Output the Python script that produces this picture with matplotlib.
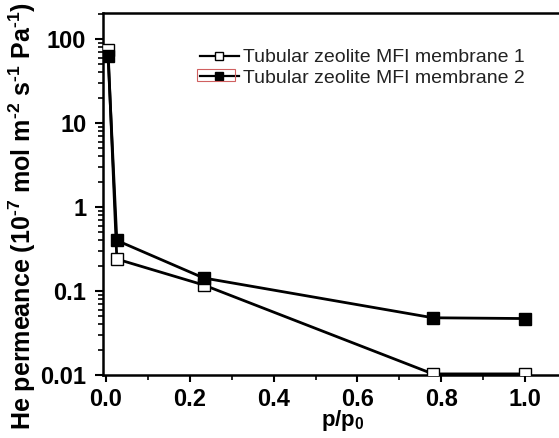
import matplotlib
matplotlib.use("Agg")
import matplotlib.pyplot as plt
from matplotlib.patches import Rectangle
from matplotlib.ticker import LogLocator, NullFormatter, FixedLocator

plt.rcParams['font.family'] = ['Liberation Sans', 'DejaVu Sans']
plt.rcParams['mathtext.fontset'] = 'custom'
plt.rcParams['mathtext.rm'] = 'Liberation Sans:bold'
plt.rcParams['mathtext.bf'] = 'Liberation Sans:bold'
plt.rcParams['mathtext.it'] = 'Liberation Sans:bold'
plt.rcParams['mathtext.default'] = 'bf'

x1 = [0.005, 0.026, 0.233, 0.78, 1.0]
y1 = [74, 0.24, 0.118, 0.0103, 0.0103]
x2 = [0.005, 0.026, 0.233, 0.78, 1.0]
y2 = [63, 0.40, 0.143, 0.048, 0.047]
labels = ["Tubular zeolite MFI membrane 1", "Tubular zeolite MFI membrane 2"]
xticks = [0.0, 0.2, 0.4, 0.6, 0.8, 1.0]
xticklabels = ["0.0", "0.2", "0.4", "0.6", "0.8", "1.0"]
yticks = [0.01, 0.1, 1, 10, 100]
yticklabels = ["0.01", "0.1", "1", "10", "100"]

W, H = 559, 438
fig = plt.figure(figsize=(W / 100, H / 100), dpi=100)
ax = fig.add_axes([103 / W, 1 - 375 / H, (562 - 103) / W, (375 - 13) / H])

ax.plot(x1, y1, color='black', lw=2, marker='s', ms=8, mfc='white',
        mec='black', mew=1, label=labels[0], zorder=3)
ax.plot(x2, y2, color='black', lw=2, marker='s', ms=8, mfc='black',
        mec='black', mew=1, label=labels[1], zorder=3)

ax.set_yscale('log')
ax.set_xlim(-0.007, 1.088)
ax.set_ylim(0.01, 204)
ax.set_xticks(xticks)
ax.set_xticklabels(xticklabels, fontsize=17, fontweight='bold')
ax.xaxis.set_minor_locator(FixedLocator([0.1, 0.3, 0.5, 0.7, 0.9]))
ax.set_yticks(yticks)
ax.set_yticklabels(yticklabels, fontsize=17, fontweight='bold')
ax.yaxis.set_minor_locator(LogLocator(base=10, subs=range(2, 10)))
ax.yaxis.set_minor_formatter(NullFormatter())
ax.tick_params(which='major', direction='out', length=6, width=1.5, pad=6)
ax.tick_params(which='minor', direction='out', length=3.5, width=1.2)
ax.tick_params(axis='x', which='major', length=5, pad=4)
for s in ax.spines.values():
    s.set_linewidth(1.8)

ax.set_xlabel(r"p/p$_0$", fontsize=16, fontweight='bold')
ax.xaxis.set_label_coords((343 - 103) / (562 - 103), -0.09)
ax.set_ylabel("He permeance (10$^{\u2010 7}$ mol m$^{\u2010 2}$ s$^{\u2010 1}$ Pa$^{\u2010 1}$)",
              fontsize=18, fontweight='bold')
ax.yaxis.set_label_coords(-0.142, 0.44)

leg = ax.legend(loc='upper left', bbox_to_anchor=((192 - 103) / (562 - 103), 1 - (41 - 13) / (375 - 13)),
                frameon=False, fontsize=14, handlelength=2.0, handletextpad=0.2,
                labelspacing=0.15, borderaxespad=0)
for t in leg.get_texts():
    t.set_color('#222222')
for h in leg.legend_handles:
    h.set_markersize(6)
    h.set_linewidth(1.6)

fig.patches.append(Rectangle((197 / W, 1 - 81 / H), 38 / W, 12 / H,
                             transform=fig.transFigure, fill=False,
                             edgecolor='#d06060', lw=0.8))

fig.savefig("out.png", dpi=100)
